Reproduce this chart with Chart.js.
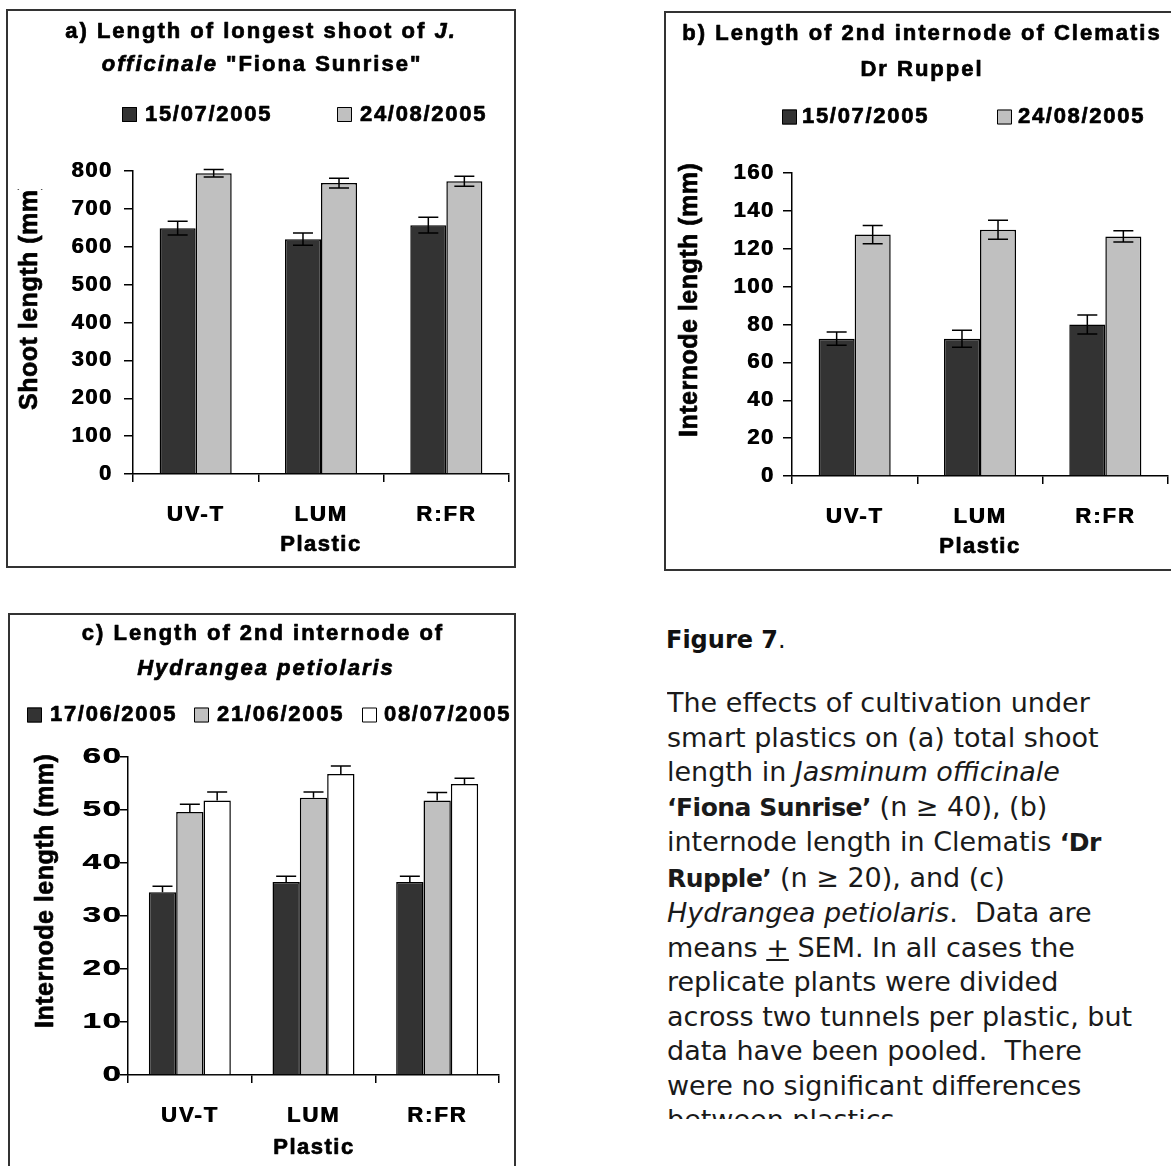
<!DOCTYPE html>
<html>
<head>
<meta charset="utf-8">
<title>Figure 7</title>
<script src="https://cdn.jsdelivr.net/npm/chart.js@4.4.1/dist/chart.umd.min.js"></script>
<style>
  html, body { margin: 0; padding: 0; background: #fff; }
  body { width: 1171px; height: 1166px; overflow: hidden; position: relative; }
  .frame { position: absolute; border: 2px solid #333; box-sizing: border-box; }
  canvas { position: absolute; }
  #figno { position: absolute; left: 666px; top: 623px; font: bold 24px 'DejaVu Sans', sans-serif;
           line-height: 34px; color: #111; white-space: nowrap; }
  #figno span { font-weight: normal; }
  #caption { position: absolute; left: 667px; top: 686px; width: 504px; height: 433px; overflow: hidden;
             font: 27px 'DejaVu Sans', sans-serif; line-height: 34.5px; color: #1a1a1a; white-space: nowrap; }
  #caption b { font-size: 25px; letter-spacing: -0.5px; }
</style>
</head>
<body>
<div class="frame" style="left:6px;top:9px;width:510px;height:559px"></div>
<div class="frame" style="left:664px;top:11px;width:530px;height:560px"></div>
<div class="frame" style="left:8px;top:613px;width:508px;height:600px"></div>

<canvas id="panelA" width="506" height="555" style="left:8px;top:11px"></canvas>
<canvas id="panelB" width="505" height="556" style="left:666px;top:13px"></canvas>
<canvas id="panelC" width="504" height="551" style="left:10px;top:615px"></canvas>

<div id="figno">Figure 7<span>.</span></div>
<div id="caption">
The effects of cultivation under<br>
smart plastics on (a) total shoot<br>
length in <i>Jasminum officinale</i><br>
<b>‘Fiona Sunrise’</b> (n ≥ 40), (b)<br>
internode length in Clematis <b>‘Dr</b><br>
<b>Rupple’</b> (n ≥ 20), and (c)<br>
<i>Hydrangea petiolaris</i>.&nbsp; Data are<br>
means <u>+</u> SEM. In all cases the<br>
replicate plants were divided<br>
across two tunnels per plastic, but<br>
data have been pooled.&nbsp; There<br>
were no significant differences<br>
between plastics.
</div>

<script>
const FONT = "'Liberation Sans', Arial, Helvetica, sans-serif";
Chart.defaults.font.family = FONT;

const plastics = ['UV-T', 'LUM', 'R:FR'];

// (a) longest shoot of Jasminum officinale 'Fiona Sunrise' (mm), mean and SEM
const jasminumDates = ['15/07/2005', '24/08/2005'];
const jasminumJul = [649, 620, 657];
const jasminumJulSem = [18, 16, 21];
const jasminumAug = [794, 768, 773];
const jasminumAugSem = [10, 13, 13];

// (b) 2nd internode of Clematis 'Dr Ruppel' (mm), mean and SEM
const clematisDates = ['15/07/2005', '24/08/2005'];
const clematisJul = [72.5, 72.5, 80];
const clematisJulSem = [3.5, 4.5, 5];
const clematisAug = [127.5, 130, 126.5];
const clematisAugSem = [4.8, 5, 3];

// (c) 2nd internode of Hydrangea petiolaris (mm), mean and SEM
const hydrangeaDates = ['17/06/2005', '21/06/2005', '08/07/2005'];
const hydrangeaJun17 = [34.5, 36.4, 36.4];
const hydrangeaJun17Sem = [1.1, 1.1, 1.1];
const hydrangeaJun21 = [49.6, 52.3, 51.8];
const hydrangeaJun21Sem = [1.5, 1.1, 1.5];
const hydrangeaJul08 = [51.8, 56.8, 54.9];
const hydrangeaJul08Sem = [1.6, 1.5, 1.1];

// value axes: [min, max, step]
const jasminumAxis = [0, 800, 100];
const clematisAxis = [0, 160, 20];
const hydrangeaAxis = [0, 60, 10];

const seriesColours = ['#333333', '#c0c0c0', '#ffffff'];

function fontStr(size, italic) {
  return (italic ? 'italic ' : '') + 'bold ' + size + 'px ' + FONT;
}

// heavy text: fill plus a thin outline in the same colour
function heavyText(ctx, text, x, y) {
  ctx.fillText(text, x, y);
  ctx.strokeText(text, x, y);
}

// Titles, legend, axis captions and SEM whiskers for one panel.
// Positions are given in page pixels and shifted by the canvas origin.
function makeDecor(spec) {
  const [ox, oy] = spec.origin;
  return {
    id: 'panelDecor',
    beforeDraw(chart) {
      for (const id of ['x', 'y']) {
        const scale = chart.scales[id];
        if (scale.__wrapped) continue;
        const draw = scale.drawLabels;
        const spacing = spec.tickSpacing[id];
        const stretch = (spec.tickStretch && spec.tickStretch[id]) || 1;
        scale.drawLabels = function (area) {
          const c = this.ctx;
          c.save();
          c.letterSpacing = spacing;
          c.shadowColor = '#000';
          c.shadowBlur = 0;
          c.shadowOffsetX = 0.8;
          c.shadowOffsetY = 0;
          if (stretch !== 1) {
            const ax = this.right - this.options.grid.tickLength - this.options.ticks.padding;
            c.translate(ax, 0);
            c.scale(stretch, 1);
            c.translate(-ax, 0);
          }
          draw.call(this, area);
          c.restore();
        };
        scale.__wrapped = true;
      }
    },
    afterDatasetsDraw(chart) {
      const ctx = chart.ctx;
      const y = chart.scales.y;
      ctx.save();
      ctx.strokeStyle = '#000';
      ctx.lineWidth = 1.5;
      spec.sem.forEach((errs, i) => {
        const values = chart.data.datasets[i].data;
        chart.getDatasetMeta(i).data.forEach((bar, j) => {
          const v = values[j];
          const top = y.getPixelForValue(v + errs[j]);
          const bot = y.getPixelForValue(spec.upperOnly ? v : v - errs[j]);
          const x = bar.x;
          ctx.beginPath();
          ctx.moveTo(x, top); ctx.lineTo(x, bot);
          ctx.moveTo(x - 10, top); ctx.lineTo(x + 10, top);
          if (!spec.upperOnly) { ctx.moveTo(x - 10, bot); ctx.lineTo(x + 10, bot); }
          ctx.stroke();
        });
      });
      ctx.restore();
    },
    afterDraw(chart) {
      const ctx = chart.ctx;
      ctx.save();
      ctx.fillStyle = '#000';
      ctx.strokeStyle = '#000';
      ctx.lineWidth = 0.7;
      ctx.lineJoin = 'round';
      ctx.textBaseline = 'middle';
      ctx.textAlign = 'left';

      // two-line panel heading, mixed roman / italic runs
      ctx.letterSpacing = '2px';
      spec.title.forEach(line => {
        const widths = line.segs.map(s => { ctx.font = fontStr(22, s.i); return ctx.measureText(s.t).width; });
        let x = line.cx - ox - widths.reduce((a, b) => a + b, 0) / 2;
        line.segs.forEach((s, k) => {
          ctx.font = fontStr(22, s.i);
          heavyText(ctx, s.t, x, line.cy - oy);
          x += widths[k];
        });
      });

      // legend: square swatch + date
      ctx.letterSpacing = '1.7px';
      ctx.font = fontStr(22, false);
      spec.legend.items.forEach((it, i) => {
        const by = spec.legend.cy - oy;
        ctx.fillStyle = chart.data.datasets[i].backgroundColor;
        ctx.fillRect(it.bx - ox, by - 7.5, 15, 15);
        ctx.lineWidth = 1;
        ctx.strokeRect(it.bx - ox + 0.5, by - 7, 14, 14);
        ctx.lineWidth = 0.7;
        ctx.fillStyle = '#000';
        heavyText(ctx, chart.data.datasets[i].label, it.tx - ox, by);
      });

      // x-axis caption
      ctx.letterSpacing = '1.5px';
      ctx.textAlign = 'center';
      heavyText(ctx, spec.xTitle.text, spec.xTitle.cx - ox, spec.xTitle.cy - oy);

      // rotated y-axis caption, cut at its top end
      ctx.save();
      ctx.beginPath();
      ctx.rect(0, spec.yTitle.clip - oy, chart.width, chart.height);
      ctx.clip();
      ctx.translate(spec.yTitle.bx - ox, spec.yTitle.by - oy);
      ctx.rotate(-Math.PI / 2);
      ctx.font = fontStr(25, false);
      ctx.letterSpacing = '0.5px';
      ctx.textAlign = 'left';
      ctx.textBaseline = 'alphabetic';
      heavyText(ctx, spec.yTitle.text, 0, 0);
      ctx.restore();

      ctx.restore();
    }
  };
}

function barChart(canvasId, p) {
  const [min, max, step] = p.axis;
  return new Chart(document.getElementById(canvasId), {
    type: 'bar',
    data: {
      labels: plastics,
      datasets: p.series.map((values, i) => ({
        label: p.dates[i],
        data: values,
        backgroundColor: seriesColours[i],
        borderColor: '#000',
        borderWidth: 1.5,
        borderSkipped: 'bottom',
        categoryPercentage: p.catPct,
        barPercentage: 1
      }))
    },
    options: {
      responsive: false,
      animation: false,
      devicePixelRatio: 1,
      layout: { padding: p.padding },
      plugins: {
        legend: { display: false },
        title: { display: false },
        tooltip: { enabled: false }
      },
      scales: {
        x: {
          grid: { offset: true, drawOnChartArea: false, drawTicks: true, tickLength: 8, color: '#000', lineWidth: 1.5 },
          border: { display: true, color: '#000', width: 1.5 },
          ticks: { font: { size: 22, weight: 'bold' }, color: '#000', padding: 20, maxRotation: 0, autoSkip: false },
          afterFit: s => { s.height = p.xHeight; }
        },
        y: {
          min: min, max: max,
          grid: { drawOnChartArea: false, drawTicks: true, tickLength: p.yTick, color: '#000', lineWidth: 1.5 },
          border: { display: true, color: '#000', width: 1.5 },
          ticks: { stepSize: step, font: { size: 22, weight: 'bold' }, color: '#000', padding: p.yPad },
          afterFit: s => { s.width = p.yWidth; }
        }
      }
    },
    plugins: [makeDecor(p.decor)]
  });
}

barChart('panelA', {
  axis: jasminumAxis,
  dates: jasminumDates,
  series: [jasminumJul, jasminumAug],
  catPct: 0.575,
  padding: { top: 160, right: 5, bottom: 0, left: 0 },
  yWidth: 125, xHeight: 92, yTick: 9, yPad: 11.5,
  decor: {
    origin: [8, 11],
    sem: [jasminumJulSem, jasminumAugSem],
    upperOnly: false,
    tickSpacing: { x: '2px', y: '1.5px' },
    title: [
      { cy: 32, cx: 261, segs: [{ t: 'a) Length of longest shoot of ' }, { t: 'J.', i: true }] },
      { cy: 65, cx: 262, segs: [{ t: 'officinale', i: true }, { t: ' "Fiona Sunrise"' }] }
    ],
    legend: { cy: 114.5, items: [{ bx: 122, tx: 145 }, { bx: 337, tx: 360 }] },
    xTitle: { text: 'Plastic', cx: 321, cy: 545 },
    yTitle: { text: 'Shoot length (mm)', bx: 37, by: 410, clip: 189 }
  }
});

barChart('panelB', {
  axis: clematisAxis,
  dates: clematisDates,
  series: [clematisJul, clematisAug],
  catPct: 0.575,
  padding: { top: 160, right: 3, bottom: 0, left: 0 },
  yWidth: 126, xHeight: 93, yTick: 9, yPad: 8.5,
  decor: {
    origin: [666, 13],
    sem: [clematisJulSem, clematisAugSem],
    upperOnly: false,
    tickSpacing: { x: '2px', y: '1.5px' },
    title: [
      { cy: 34, cx: 922, segs: [{ t: 'b) Length of 2nd internode of Clematis' }] },
      { cy: 70, cx: 922, segs: [{ t: 'Dr Ruppel' }] }
    ],
    legend: { cy: 117, items: [{ bx: 782, tx: 802 }, { bx: 997, tx: 1018 }] },
    xTitle: { text: 'Plastic', cx: 980, cy: 547 },
    yTitle: { text: 'Internode length (mm)', bx: 697, by: 437, clip: 164 }
  }
});

barChart('panelC', {
  axis: hydrangeaAxis,
  dates: hydrangeaDates,
  series: [hydrangeaJun17, hydrangeaJun21, hydrangeaJul08],
  catPct: 0.663,
  padding: { top: 142, right: 15, bottom: 0, left: 0 },
  yWidth: 118, xHeight: 91, yTick: 8, yPad: -2,
  decor: {
    origin: [10, 615],
    sem: [hydrangeaJun17Sem, hydrangeaJun21Sem, hydrangeaJul08Sem],
    upperOnly: true,
    tickSpacing: { x: '2px', y: '1px' },
    tickStretch: { y: 1.5 },
    title: [
      { cy: 634, cx: 263, segs: [{ t: 'c) Length of 2nd internode of' }] },
      { cy: 669, cx: 266, segs: [{ t: 'Hydrangea petiolaris', i: true }] }
    ],
    legend: { cy: 715, items: [{ bx: 27, tx: 50 }, { bx: 194, tx: 217 }, { bx: 362, tx: 384 }] },
    xTitle: { text: 'Plastic', cx: 314, cy: 1148 },
    yTitle: { text: 'Internode length (mm)', bx: 53, by: 1028, clip: 600 }
  }
});
</script>
</body>
</html>
